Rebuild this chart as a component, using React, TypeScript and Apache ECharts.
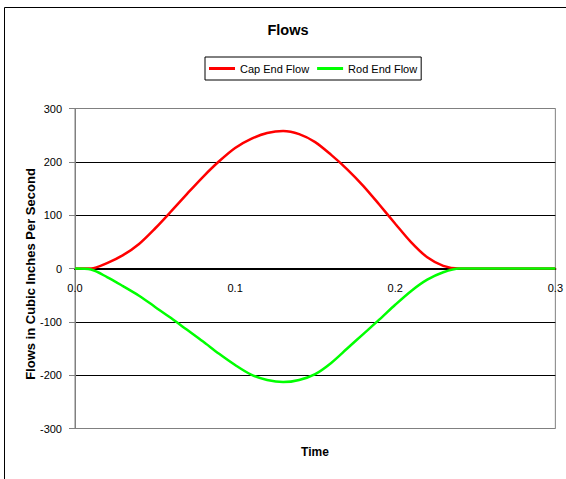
import React, { useEffect, useRef } from "react";
import * as echarts from "echarts";

const timeValues = [
  0, 0.01, 0.02, 0.03, 0.04, 0.05, 0.06, 0.07, 0.08, 0.09, 0.1, 0.11, 0.12, 0.13, 0.14, 0.15,
  0.16, 0.17, 0.18, 0.19, 0.2, 0.21, 0.22, 0.23, 0.24, 0.25, 0.26, 0.27, 0.28, 0.29, 0.3,
];
const capEndFlow = [
  0, 0, 10, 25, 46, 75, 107, 140, 172, 201, 226, 243, 254, 258, 252, 237,
  213, 186, 155, 120, 84, 49, 21, 5, 0, 0, 0, 0, 0, 0, 0,
];
const rodEndFlow = [
  0, -2, -16, -33, -51, -72, -93, -115, -137, -160, -181, -199, -209, -213, -209, -198,
  -177, -150, -123, -96, -68, -42, -21, -7, 0, 0, 0, 0, 0, 0, 0,
];
const seriesNames = ["Cap End Flow", "Rod End Flow"];
const chartTitle = "Flows";
const xAxisTitle = "Time";
const yAxisTitle = "Flows in Cubic Inches Per Second";

const FONT = "Liberation Sans, Arial, Helvetica, sans-serif";

export default function App() {
  const ref = useRef<HTMLDivElement>(null);
  useEffect(() => {
    if (!ref.current) return;
    const chart = echarts.init(ref.current, null, { renderer: "svg" });
    const capData = timeValues.map((t, i) => [t, capEndFlow[i]]);
    const rodData = timeValues.map((t, i) => [t, rodEndFlow[i]]);
    chart.setOption({
      animation: false,
      backgroundColor: "#ffffff",
      title: {
        text: chartTitle,
        left: 288,
        top: 22,
        padding: 0,
        textAlign: "center",
        textStyle: { fontFamily: FONT, fontSize: 14.5, fontWeight: "bold", color: "#000" },
      },
      legend: {
        left: 205,
        top: 57,
        padding: [6, 4, 6, 4],
        borderColor: "#000",
        borderWidth: 1,
        itemWidth: 26,
        itemHeight: 3,
        itemGap: 8,
        icon: "rect",
        data: seriesNames,
        textStyle: { fontFamily: FONT, fontSize: 11, color: "#000" },
      },
      grid: { left: 75, right: 8, top: 108.5, bottom: 50.5, containLabel: false, show: true, borderColor: "#808080", borderWidth: 1 },
      xAxis: {
        type: "value",
        min: 0,
        max: 0.3,
        interval: 0.1,
        axisLine: { onZero: true, lineStyle: { color: "#000", width: 2 } },
        axisTick: { show: false },
        axisLabel: {
          margin: -146,
          hideOverlap: false,
          fontFamily: FONT,
          fontSize: 11,
          color: "#000",
          formatter: (v: number) => v.toFixed(1),
        },
        splitLine: { show: false },
      },
      yAxis: {
        type: "value",
        min: -300,
        max: 300,
        interval: 100,
        axisLine: { show: true, onZero: false, lineStyle: { color: "#808080", width: 1 } },
        axisTick: { show: true, inside: false, length: 6, lineStyle: { color: "#808080" } },
        axisLabel: { margin: 13, fontFamily: FONT, fontSize: 11, color: "#000" },
        splitLine: {
          show: true,
          lineStyle: {
            color: ["#808080", "#000", "#000", "#000", "#000", "#000", "#808080"],
            width: 1,
          },
        },
      },
      graphic: [
        {
          type: "rect",
          shape: { x: 4.5, y: 7.5, width: 700, height: 600 },
          style: { fill: "none", stroke: "#000", lineWidth: 1 },
          silent: true,
          z: -10,
        },
        {
          type: "text",
          x: 315,
          y: 452,
          style: {
            text: xAxisTitle,
            fill: "#000",
            font: `bold 12px ${FONT}`,
            align: "center",
            verticalAlign: "middle",
          },
        },
        {
          type: "text",
          x: 30,
          y: 274,
          rotation: Math.PI / 2,
          style: {
            text: yAxisTitle,
            fill: "#000",
            font: `bold 13px ${FONT}`,
            align: "center",
            verticalAlign: "middle",
          },
        },
      ],
      series: [
        {
          name: seriesNames[0],
          type: "line",
          data: capData,
          smooth: 0.3,
          symbol: "none",
          lineStyle: { color: "#ff0000", width: 2.5 },
          itemStyle: { color: "#ff0000" },
        },
        {
          name: seriesNames[1],
          type: "line",
          data: rodData,
          smooth: 0.3,
          symbol: "none",
          lineStyle: { color: "#00ff00", width: 2.5 },
          itemStyle: { color: "#00ff00" },
        },
      ],
    });
    return () => chart.dispose();
  }, []);
  return (
    <div
      ref={ref}
      style={{ position: "fixed", left: 0, top: 0, width: 566, height: 479, background: "#fff" }}
    />
  );
}
